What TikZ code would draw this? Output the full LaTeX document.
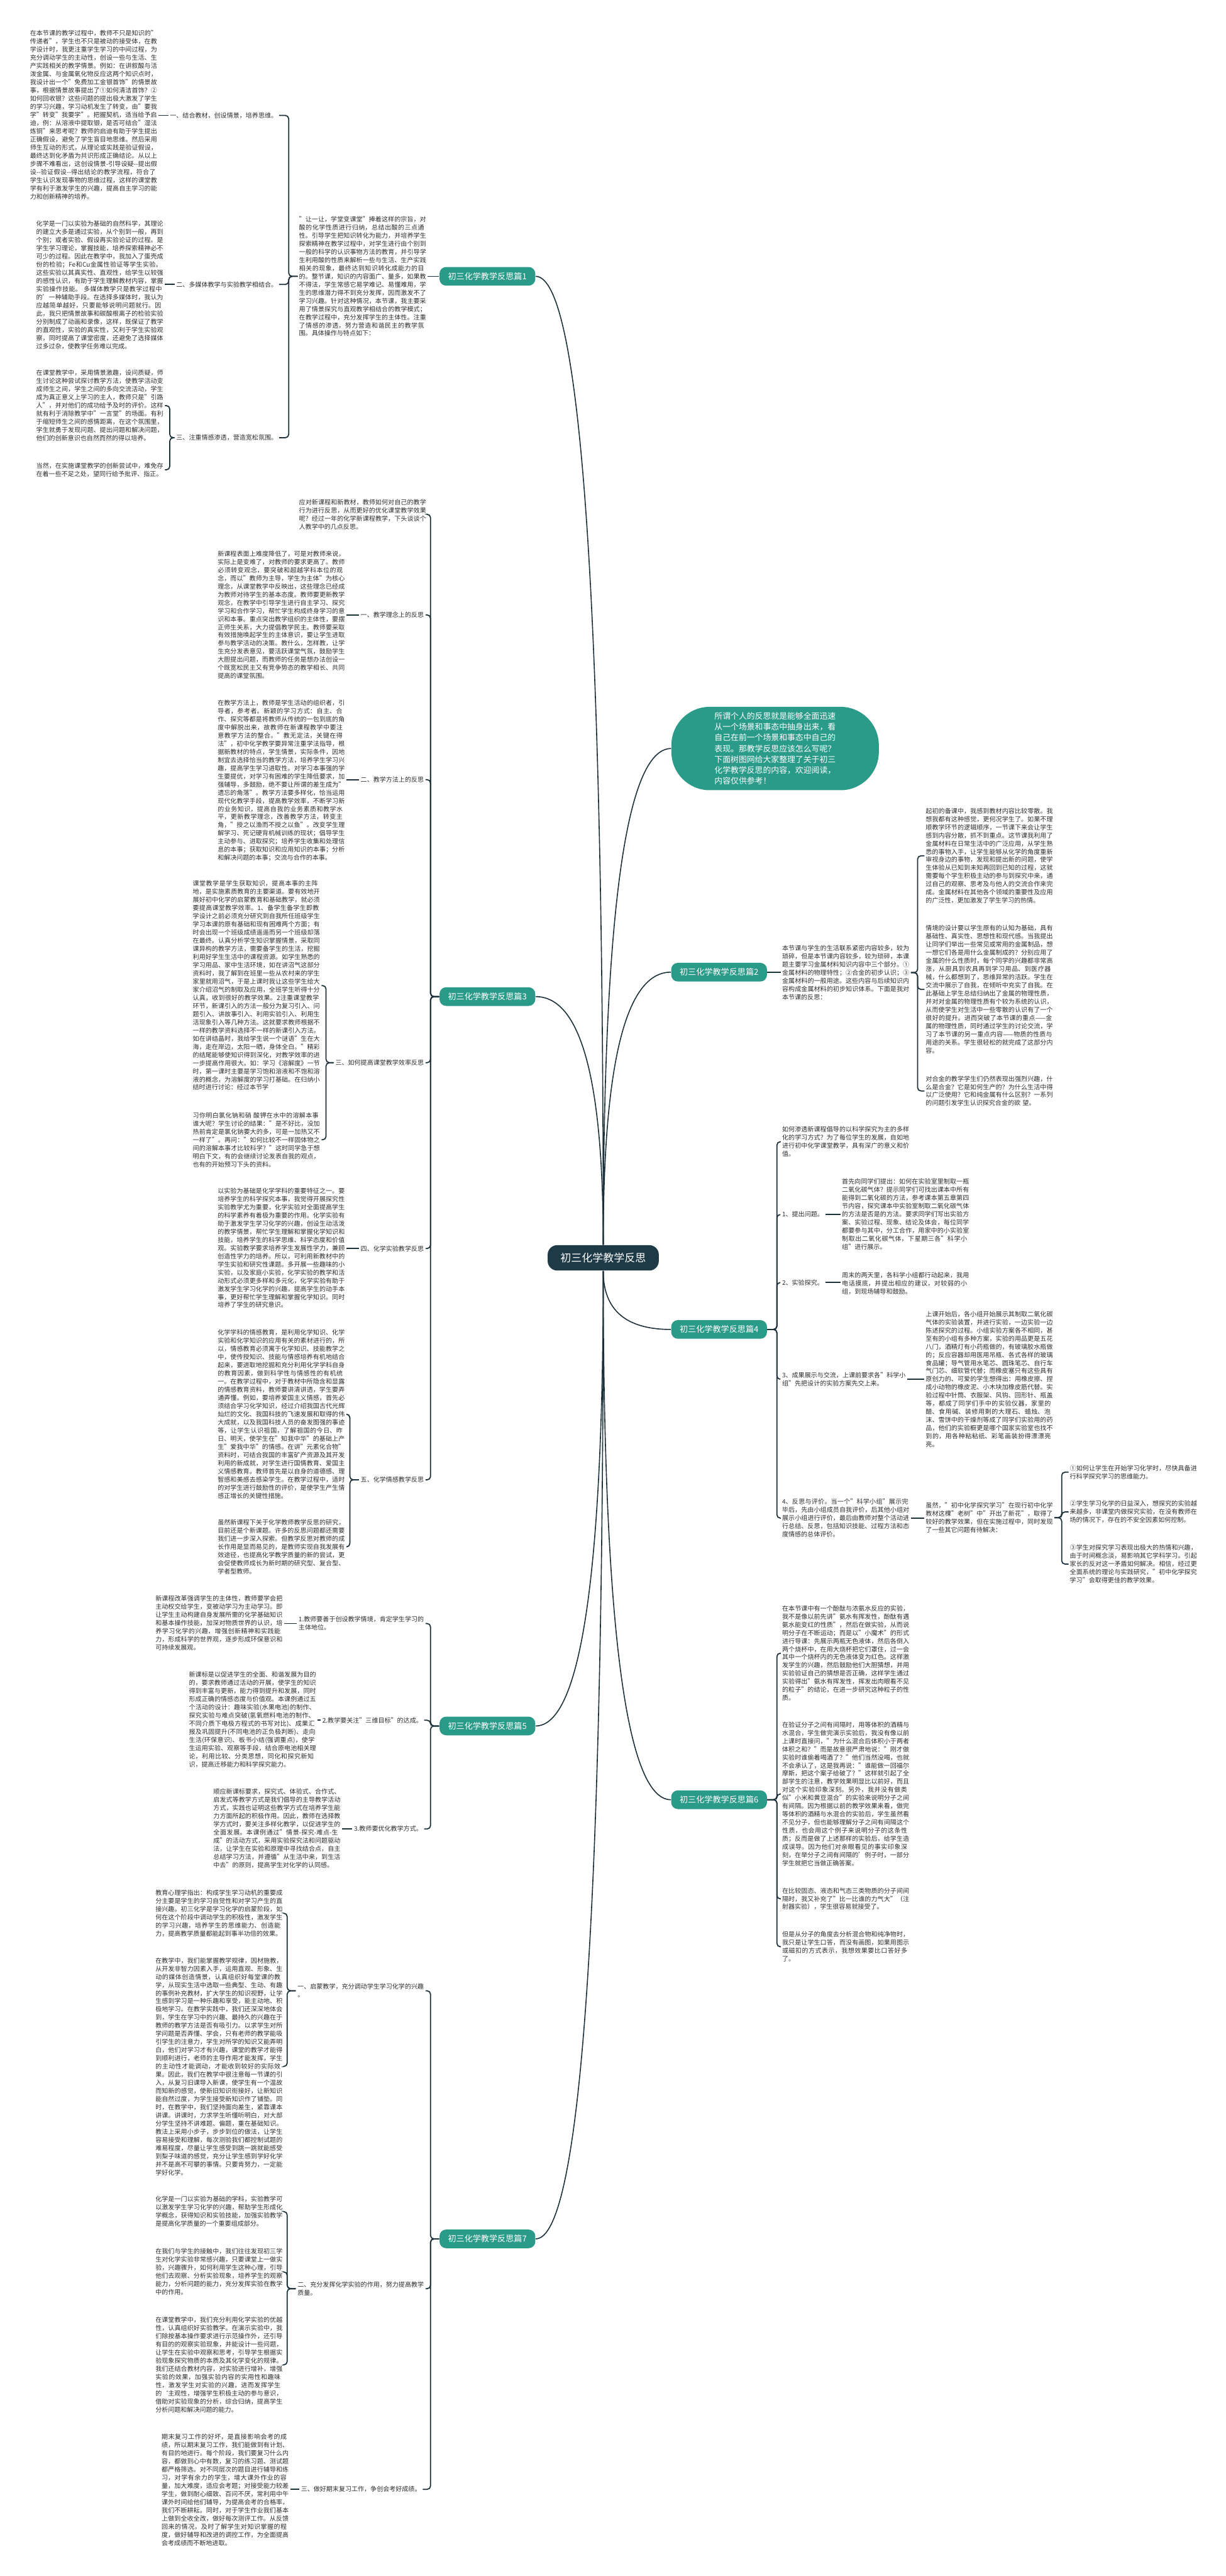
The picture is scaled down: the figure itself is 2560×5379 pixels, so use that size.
\documentclass[tikz,border=0pt]{standalone}
\usepackage{fontspec}
\setmainfont{Noto Sans CJK SC}
\usepackage{tikz}
\usetikzlibrary{calc}
\XeTeXlinebreaklocale "zh"
\XeTeXlinebreakskip = 0pt plus 1pt

\definecolor{rootclr}{RGB}{30,58,70}
\definecolor{branchclr}{RGB}{43,155,137}
\definecolor{lineclr}{RGB}{28,48,58}
\definecolor{textclr}{RGB}{45,45,45}

\newcommand{\leaffont}{\fontsize{3.75pt}{4.84pt}\selectfont}
\newcommand{\branchfont}{\fontsize{4.9pt}{5.9pt}\selectfont}
\newcommand{\rootfont}{\fontsize{6.35pt}{7.6pt}\selectfont}
\newcommand{\bubblefont}{\fontsize{4.8pt}{6.42pt}\selectfont}

\tikzstyle{root}   = [rectangle, rounded corners=0.2cm, minimum width=2.32cm,
    minimum height=0.53cm, inner sep=0pt, fill=rootclr, text=white, font=\rootfont]
\tikzstyle{branch} = [rectangle, rounded corners=0.14cm, minimum width=2.0cm,
    minimum height=0.39cm, inner sep=0pt, fill=branchclr, text=white, font=\branchfont]
\tikzstyle{bubble} = [rectangle, rounded corners=0.8cm, minimum width=4.33cm,
    minimum height=1.74cm, inner sep=0pt, fill=branchclr, text=white, font=\bubblefont, align=left]
\tikzstyle{leaf}   = [text width=2.66cm, align=left, inner xsep=0.02cm, inner ysep=0.02cm,
    font=\leaffont, text=textclr]
\tikzstyle{topic}  = [align=left, inner xsep=0.03cm, inner ysep=0.02cm, font=\leaffont, text=textclr]
\tikzstyle{link}   = [draw=lineclr, line width=0.65pt, rounded corners=0.07cm]
\tikzstyle{stem}   = [draw=lineclr, line width=0.6pt,
    to path={.. controls ($(\tikztostart)!0.667!(\tikztostart |- \tikztotarget)$)
    and ($(\tikztotarget)!0.667!(\tikztostart |- \tikztotarget)$) .. (\tikztotarget)}]

\begin{document}
\begin{tikzpicture}[x=0.01cm, y=-0.01cm]
    \path [use as bounding box, fill=white] (0,0) rectangle (2560,5379);

    % centre and main branches
    \node (ctr)  [root]   at (1260,2626.5) {初三化学教学反思};
    \node (n1)   [branch] at (1018,577)    {初三化学教学反思篇1};
    \node (n3)   [branch] at (1018,2081)   {初三化学教学反思篇3};
    \node (n5)   [branch] at (1018,3604)   {初三化学教学反思篇5};
    \node (n7)   [branch] at (1018,4675)   {初三化学教学反思篇7};
    \node (n2)   [branch] at (1502,2030)   {初三化学教学反思篇2};
    \node (n4)   [branch] at (1502,2776)   {初三化学教学反思篇4};
    \node (n6)   [branch] at (1502,3758)   {初三化学教学反思篇6};
    \node (bub)  [bubble] at (1619,1563)   {所谓个人的反思就是能够全面迅速\\从一个场景和事态中抽身出来，看\\自己在前一个场景和事态中自己的\\表现。那教学反思应该怎么写呢？\\下面树图网给大家整理了关于初三\\化学教学反思的内容，欢迎阅读，\\内容仅供参考！};

    \draw [stem] (ctr.north) to (n1.east);
    \draw [stem] (ctr.north) to (n3.east);
    \draw [stem] (ctr.north) to (bub.west);
    \draw [stem] (ctr.north) to (n2.west);
    \draw [stem] (ctr.south) to (n4.west);
    \draw [stem] (ctr.south) to (n5.east);
    \draw [stem] (ctr.south) to (n6.west);
    \draw [stem] (ctr.south) to (n7.east);

    % 篇1
    \node (P1)  [leaf, anchor=west] at (622,577) {"让一让，学堂变课堂"捧着这样的宗旨，对酸的化学性质进行归纳，总结出酸的三点通性。引导学生把知识转化为能力，并培养学生探索精神在教学过程中，对学生进行由个别到一般的科学的认识事物方法的教育，并引导学生利用酸的性质来解析一些与生活、生产实践相关的现象，最终达到知识转化成能力的目的。整节课，知识的内容面广、量多，如果教不得法，学生常感它易学难记、易懂难用，学生的思维潜力得不到充分发挥，因而激发不了学习兴趣。针对这种情况，本节课，我主要采用了情景探究与直观教学相结合的教学模式；在教学过程中，充分发挥学生的主体性。注重了情感的渗透，努力营造和谐民主的教学氛围。具体操作与特点如下：};
    \node (L1a) [topic, anchor=east] at (583,241) {一、结合教材，创设情景，培养思维。};
    \node (L1b) [topic, anchor=east] at (583,594) {二、多媒体教学与实验教学相结合。};
    \node (L1c) [topic, anchor=east] at (583,914) {三、注重情感渗透，营造宽松氛围。};
    \node (A1)  [leaf, anchor=west] at (60,240) {在本节课的教学过程中，教师不只是知识的"传递者"，学生也不只是被动的接受体，在教学设计时，我更注重学生学习的中间过程，为充分调动学生的主动性，创设一些与生活、生产实践相关的教学情景。例如：在讲叙酸与活泼金属、与金属氧化物反应这两个知识点时，我设计出一个"免费加工金银首饰"的情景故事，根据情景故事提出了①如何清洁首饰？②如何回收银？这些问题的提出极大激发了学生的学习兴趣，学习动机发生了转变，由"要我学"转变"我要学"。把握契机，适当给予启迪，例：从溶液中提取银，是否可结合"湿法炼铜"来思考呢？教师的启迪有助于学生提出正确假设，避免了学生盲目地思维。然后采用师生互动的形式，从理论或实践是验证假设，最终达到化矛盾为共识形成正确结论。从以上步骤不难看出，这创设情景-引导设疑-{}-提出假设-{}-验证假设-{}-得出结论的教学流程，符合了学生认识发现事物的思维过程，这样的课堂教学有利于激发学生的兴趣，提高自主学习的能力和创新精神的培养。};
    \node (A2)  [leaf, anchor=west] at (73,595) {化学是一门以实验为基础的自然科学，其理论的建立大多是通过实验，从个别到一般，再到个别；或者实验、假设再实验论证的过程。是学生学习理论，掌握技能，培养探索精神必不可少的过程。因此在教学中，我加入了蛋壳成份的检验；Fe和Cu金属性验证等学生实验。这些实验以其真实性、直观性，给学生以较强的感性认识，有助于学生理解教材内容，掌握实验操作技能。 多媒体教学只是教学过程中的'一种辅助手段。在选择多媒体时，我认为应越简单越好，只要能够说明问题就行。因此，我只把情景故事和碳酸根离子的检验实验分别制成了动画和录像，这样，既保证了教学的直观性，实验的真实性，又利于学生实验观察，同时提高了课堂密度，还避免了选择媒体过多过杂，使教学任务难以完成。};
    \node (A3a) [leaf, anchor=west] at (73,847) {在课堂教学中，采用情景激趣，设问质疑，师生讨论这种尝试探讨教学方法，使教学活动变成师生之间，学生之间的多向交流活动，学生成为真正意义上学习的主人，教师只是"引路人"，并对他们的成功给予及时的评价。这样就有利于消除教学中"一言堂"的场面。有利于缩短师生之间的感情距离，在这个氛围里，学生就勇于发现问题、提出问题和解决问题，他们的创新意识也自然而然的得以培养。};
    \node (A3b) [leaf, anchor=west] at (73,981) {当然，在实施课堂教学的创新尝试中，难免存在着一些不足之处，望同行给予批评、指正。};

    \draw [link] (n1.west) -- (n1.west -| P1.east);
    \draw [link] (P1.west) -- ++(-19,0) |- (L1a.east);
    \draw [link] (P1.west) -- ++(-19,0) |- (L1b.east);
    \draw [link] (P1.west) -- ++(-19,0) |- (L1c.east);
    \draw [link] (L1a.west) -- (L1a.west -| A1.east);
    \draw [link] (L1b.west) -- (L1b.west -| A2.east);
    \draw [link] (L1c.west) -- ++(-10,0) |- (A3a.east);
    \draw [link] (L1c.west) -- ++(-10,0) |- (A3b.east);

    % 篇3
    \node (P3)  [leaf, anchor=west] at (622,1074) {应对新课程和新教材，教师如何对自己的教学行为进行反思，从而更好的优化课堂教学效果呢？经过一年的化学新课程教学，下头谈谈个人教学中的几点反思。};
    \node (L3a) [topic, anchor=east] at (889,1284) {一、教学理念上的反思};
    \node (L3b) [topic, anchor=east] at (889,1628) {二、教学方法上的反思};
    \node (L3c) [topic, anchor=east] at (889,2219) {三、如何提高课堂教学效率反思};
    \node (L3d) [topic, anchor=east] at (889,2607) {四、化学实验教学反思};
    \node (L3e) [topic, anchor=east] at (889,3090) {五、化学情感教学反思};
    \node (B1)  [leaf, anchor=west] at (452,1284) {新课程表面上难度降低了，可是对教师来说，实际上是变难了，对教师的要求更高了。教师必须转变观念，要突破和超越学科本位的观念，而以"教师为主导，学生为主体"为核心理念，从课堂教学中反映出，这些理念已经成为教师对待学生的基本态度。教师要更新教学观念，在教学中引导学生进行自主学习、探究学习和合作学习，帮忙学生构成终身学习的意识和本事。重点突出教学组织的主体性，要摆正师生关系，大力提倡教学民主。教师要采取有效措施唤起学生的主体意识，要让学生进取参与教学活动的决策。教什么，怎样教，让学生充分发表意见，要活跃课堂气氛，鼓励学生大胆提出问题，而教师的任务是想办法创设一个既宽松民主又有竞争势态的教学相长、共同提高的课堂氛围。};
    \node (B2)  [leaf, anchor=west] at (452,1630) {在教学方法上，教师是学生活动的组织者，引导者，参考者。新颖的学习方式：自主、合作、探究等都是将教师从传统的一包到底的角度中解脱出来，故教师在新课程教学中要注意教学方法的整合。"教无定法，关键在得法"，初中化学教学要异常注重学法指导，根据新教材的特点，学生情景，实际条件，因地制宜去选择恰当的教学方法，培养学生学习兴趣，提高学生学习进取性。对学习本事强的学生要提优，对学习有困难的学生降低要求，加强辅导，多鼓励，绝不要让所谓的差生成为"遗忘的角落"。教学方法要多样化，恰当运用现代化教学手段，提高教学效率，不断学习新的业务知识，提高自我的业务素质和教学水平，更新教学理念，改善教学方法，转变主角，"授之以渔而不授之以鱼"。改变学生理解学习、死记硬背机械训练的现状；倡导学生主动参与、进取探究；培养学生收集和处理信息的本事；获取知识和应用知识的本事；分析和解决问题的本事；交流与合作的本事。};
    \node (B3a) [leaf, anchor=west] at (400,2058) {课堂教学是学生获取知识，提高本事的主阵地，是实施素质教育的主要渠道。要有效地开展好初中化学的启蒙教育和基础教学，就必须要提高课堂教学效率。1、备学生备学生即教学设计之前必须充分研究到自我所任班级学生学习本课的原有基础和现有困难两个方面；有时会出现一个班级成绩遥遥而另一个班级却落在最终。认真分析学生知识掌握情景，采取同课异构的教学方法，需要备学生的生活，挖掘利用好学生生活中的课程资源。如学生熟悉的学习用品、家中生活环境，如在讲沼气这部分资料时，我了解到在班里一些从农村来的学生家里就用沼气，于是上课时我让这些学生给大家介绍沼气的制取及应用，全班学生听得十分认真，收到很好的教学效果。2注重课堂教学环节，新课引入的方法一般分为复习引入、问题引入、讲故事引入、利用实验引入、利用生活现象引入等几种方法。这就要求教师根据不一样的教学资料选择不一样的新课引入方法。如在讲结晶时，我给学生说一个谜语"生在大海，走在岸边，太阳一晒，身体全白。"精彩的结尾能够使知识得到深化，对教学效率的进一步提高作用很大。如：学习《溶解度》一节时，第一课时主要是学习饱和溶液和不饱和溶液的概念，为溶解度的学习打基础。在归纳小结时进行讨论：经过本节学};
    \node (B3b) [leaf, anchor=west] at (400,2380) {习你明白氯化钠和硝 酸钾在水中的溶解本事谁大呢？学生讨论的结果："是不好比，没加热前肯定是氯化钠要大的多，可是一加热又不一样了"。再问："如何比较不一样固体物之间的溶解本事才比较科学？"这时同学急于想明白下文，有的会继续讨论发表自我的观点，也有的开始预习下头的资料。};
    \node (B4)  [leaf, anchor=west] at (452,2606) {以实验为基础是化学学科的重要特征之一。要培养学生的科学探究本事，我觉得开展探究性实验教学尤为重要，化学实验对全面提高学生的科学素养有着极为重要的作用。化学实验有助于激发学生学习化学的兴趣，创设生动活泼的教学情景，帮忙学生理解和掌握化学知识和技能，培养学生的科学思维、科学态度和价值观。实验教学要求培养学生发展性学力，兼顾创造性学力的培养。所以，可利用新教材中的学生实验和研究性课题。多开展一些趣味的小实验，以及家庭小实验，化学实验的教学和活动形式必须更多样和多元化，化学实验有助于激发学生学习化学的兴趣，提高学生的动手本事，更好帮忙学生理解和掌握化学知识。同时培养了学生的研究意识。};
    \node (B5a) [leaf, anchor=west] at (452,2953) {化学学科的情感教育，是利用化学知识、化学实验和化学知识的应用有关的素材进行的，所以，情感教育必须寓于化学知识、技能教学之中，使传授知识、技能与情感培养有机地结合起来，要进取地挖掘和充分利用化学学科自身的教育因素，做到科学性与情感性的有机统一。在教学过程中，对于教材中所隐含和显露的情感教育资料，教师要讲清讲透，学生要弄通弄懂。例如，要培养爱国主义情感，首先必须结合学习化学知识，经过介绍我国古代光辉灿烂的文化、我国科技的飞速发展和取得的伟大成就，以及我国科技人员的奋发图强的事迹等，让学生认识祖国，了解祖国的今日、昨日、明天，使学生在"知我中华"的基础上产生"爱我中华"的情感。在讲"元素化合物"资料时，可结合我国的丰富矿产资源及其开发利用的新成就，对学生进行国情教育、爱国主义情感教育。教师首先是以自身的道德感、理智感和美感去感染学生。在教学过程中，适时的对学生进行鼓励性的评价，是使学生产生情感正增长的关键性措施。};
    \node (B5b) [leaf, anchor=west] at (452,3230) {虽然新课程下关于化学教师教学反思的研究，目前还是个新课题。许多的反思问题都还需要我们进一步深入探索。但教学反思对教师的成长作用是显而易见的，是教师实现自我发展有效途径，也提高化学教学质量的新的尝试，更会促使教师成长为新时期的研究型、复合型、学者型教师。};

    \draw [link] (n3.west) -- ++(-18,0) |- (P3.east);
    \draw [link] (n3.west) -- ++(-18,0) |- (L3a.east);
    \draw [link] (n3.west) -- ++(-18,0) |- (L3b.east);
    \draw [link] (n3.west) -- ++(-18,0) |- (L3c.east);
    \draw [link] (n3.west) -- ++(-18,0) |- (L3d.east);
    \draw [link] (n3.west) -- ++(-18,0) |- (L3e.east);
    \draw [link] (L3a.west) -- (L3a.west -| B1.east);
    \draw [link] (L3b.west) -- (L3b.west -| B2.east);
    \draw [link] (L3c.west) -- ++(-16,0) |- (B3a.east);
    \draw [link] (L3c.west) -- ++(-16,0) |- (B3b.east);
    \draw [link] (L3d.west) -- (L3d.west -| B4.east);
    \draw [link] (L3e.west) -- ++(-19,0) |- (B5a.east);
    \draw [link] (L3e.west) -- ++(-19,0) |- (B5b.east);

    % 篇5
    \node (L5a) [topic, anchor=east] at (889,3390) {1.教师要善于创设教学情境，肯定学生学习的\\主体地位。};
    \node (L5b) [topic, anchor=east] at (886,3592) {2.教学要关注"三维目标"的达成。};
    \node (L5c) [topic, anchor=east] at (886,3819) {3.教师要优化教学方式。};
    \node (C1)  [leaf, anchor=west] at (322,3389) {新课程改革强调学生的主体性，教师要学会把主动权交给学生，变被动学习为主动学习。即让学生主动构建自身发展所需的化学基础知识和基本操作技能，加深对物质世界的认识，培养学习化学的兴趣，增强创新精神和实践能力，形成科学的世界观，逐步形成环保意识和可持续发展观。};
    \node (C2)  [leaf, anchor=west] at (392,3591) {新课标是以促进学生的全面、和谐发展为目的的，要求教师通过活动的开展，使学生的知识得到丰富与更新，能力得到提升和发展，同时形成正确的情感态度与价值观。本课例通过五个活动的设计：趣味实验(水果电池)的制作、探究实验与难点突破(氢氧燃料电池的制作、不同介质下电极方程式的书写对比)、成果汇报及巩固提升(不同电池的正负极判断)、走向生活(环保意识)、板书小结(强调重点)，使学生运用实验、观察等手段，结合原电池相关理论，利用比较、分类思想，同化和探究新知识，提高迁移能力和科学探究能力。};
    \node (C3)  [leaf, anchor=west] at (443,3818) {顺应新课标要求，探究式、体验式、合作式、启发式等教学方式是我们倡导的主导教学活动方式，实践也证明这些教学方式在培养学生能力方面所起的积极作用。因此，教师在选择教学方式时，要关注多样化教学，以促进学生的全面发展。本课例通过"情景-探究-难点-生成"的活动方式，采用实验探究法和问题驱动法，让学生在实验和原理中寻找结合点，自主总结学习方法，并遵循"从生活中来，到生活中去"的原则，提高学生对化学的认同感。};

    \draw [link] (n5.west) -- ++(-18,0) |- (L5a.east);
    \draw [link] (n5.west) -- ++(-18,0) |- (L5b.east);
    \draw [link] (n5.west) -- ++(-18,0) |- (L5c.east);
    \draw [link] (L5a.west) -- (L5a.west -| C1.east);
    \draw [link] (L5b.west) -- (L5b.west -| C2.east);
    \draw [link] (L5c.west) -- (L5c.west -| C3.east);

    % 篇7
    \node (L7a) [topic, anchor=east] at (889,4157) {一、启蒙教学，充分调动学生学习化学的兴趣\\。};
    \node (L7b) [topic, anchor=east] at (889,4779) {二、充分发挥化学实验的作用，努力提高教学\\质量。};
    \node (L7c) [topic, anchor=east] at (883,5198) {三、做好期末复习工作，争创会考好成绩。};
    \node (D1a) [leaf, anchor=west] at (322,3995) {教育心理学指出：构成学生学习动机的重要成分主要是学生的学习自觉性和对学习产生的直接兴趣。初三化学是学习化学的启蒙阶段，如何在这个阶段中调动学生的积极性，激发学生的学习兴趣，培养学生的思维能力、创造能力，提高教学质量都能起到事半功倍的效果。};
    \node (D1b) [leaf, anchor=west] at (322,4315) {在教学中，我们能掌握教学规律，因材施教，从开发非智力因素入手，运用直观、形象、生动的媒体创造情景，认真组织好每堂课的教学，从现实生活中选取一些典型、生动、有趣的事例补充教材，扩大学生的知识视野，让学生感到学习是一种乐趣和享受，能主动地、积极地学习。在教学实践中，我们还深深地体会到，学生在学习中的兴趣、最持久的兴趣在于教师的教学方法是否有吸引力。以求学生对所学问题是否弄懂、学会，只有老师的教学能吸引学生的注意力，学生对所学的知识又能弄明白，他们对学习才有兴趣，课堂的教学才能得到顺利进行，老师的主导作用才能发挥，学生的主动性才能调动，才能收到较好的实际效果。因此，我们在教学中很注意每一节课的引入，从复习旧课导入新课，使学生有一个温故而知新的感觉，使新旧知识衔接好，让新知识能自然过度，为学生接受新知识作了铺垫。同时，在教学中，我们坚持面向差生，紧靠课本讲课。讲课时，力求学生听懂听明白，对大部分学生坚持不讲难题、偏题，重在基础知识。教法上采用小步子，步步到位的做法，让学生容易接受和理解，每次测验我们都控制试题的难易程度，尽量让学生感受到跳一跳就能感受到梨子味道的感觉，充分让学生感到学好化学并不是高不可攀的事情。只要肯努力，一定能学好化学。};
    \node (D2a) [leaf, anchor=west] at (322,4618) {化学是一门以实验为基础的学科，实验教学可以激发学生学习化学的兴趣，帮助学生形成化学概念，获得知识和实验技能，加强实验教学是提高化学质量的一个重要组成部分。};
    \node (D2b) [leaf, anchor=west] at (322,4744) {在我们与学生的接触中，我们往往发现初三学生对化学实验非常感兴趣，只要课堂上一做实验，兴趣骤升，如何利用学生这种心理，引导他们去观察、分析实验现象，培养学生的观察能力，分析问题的能力，充分发挥实验在教学中的作用。};
    \node (D2c) [leaf, anchor=west] at (322,4938) {在课堂教学中，我们充分利用化学实验的优越性，认真组织好实验教学。在演示实验中，我们除按基本操作要求进行示范操作外，还引导有目的的观察实验现象，并能设计一些问题，让学生在实验中观察和思考，引导学生根据实验现象探究物质的本质及其化学变化的规律。我们还结合教材内容，对实验进行增补，增强实验的效果，加强实验内容的实用性和趣味性，激发学生对实验的兴趣，进而发挥学生的`主观性，增强学生积极主动的参与意识，借助对实验现象的分析，综合归纳，提高学生分析问题和解决问题的能力。};
    \node (D3)  [leaf, anchor=west] at (335,5199) {期末复习工作的好坏，是直接影响会考的成绩，所以期末复习工作，我们能做到有计划、有目的地进行。每个阶段，我们要复习什么内容，都做到心中有数，复习的练习题、测试题都严格筛选。对不同层次的题目进行辅导和练习，对学有余力的学生，增大课外作业的容量，加大难度，适应会考题；对接受能力较差学生，做到耐心细致、百问不厌，常利用中午课外时间给他们辅导，为提高会考的合格率，我们不断耕耘。同时，对于学生作业我们基本上做到全收全改，做好每次测评工作。从反馈回来的情况，及时了解学生对知识掌握的程度，做好辅导和改进的调控工作，为全面提高会考成绩而不断地进取。};

    \draw [link] (n7.west) -- ++(-18,0) |- (L7a.east);
    \draw [link] (n7.west) -- ++(-18,0) |- (L7b.east);
    \draw [link] (n7.west) -- ++(-18,0) |- (L7c.east);
    \draw [link] (L7a.west) -- ++(-18,0) |- (D1a.east);
    \draw [link] (L7a.west) -- ++(-18,0) |- (D1b.east);
    \draw [link] (L7b.west) -- ++(-18,0) |- (D2a.east);
    \draw [link] (L7b.west) -- ++(-18,0) |- (D2b.east);
    \draw [link] (L7b.west) -- ++(-18,0) |- (D2c.east);
    \draw [link] (L7c.west) -- (L7c.west -| D3.east);

    % 篇2
    \node (E0) [leaf, anchor=west] at (1631,2031) {本节课与学生的生活联系紧密内容较多，较为琐碎，但是本节课内容较多，较为琐碎，本课题主要学习金属材料知识内容中三个部分。①金属材料的物理特性；②合金的初步认识；③金属材料的一般用途。这些内容与后续知识内容构成金属材料的初步知识体系。下面是我对本节课的反思：};
    \node (E1) [leaf, anchor=west] at (1931,1787) {起初的备课中，我感到教材内容比较零散。我想我都有这种感觉，更何况学生了。如果不理顺教学环节的逻辑顺序，一节课下来会让学生感到内容分散，抓不到重点。这节课我利用了金属材料在日常生活中的广泛应用，从学生熟悉的事物入手，让学生能够从化学的角度重新审视身边的事物，发现和提出新的问题，使学生体验从已知到未知再回到已知的过程，这就需要每个学生积极主动的参与到探究中来，通过自己的观察、思考及与他人的交流合作来完成。金属材料在其他各个领域的重要性及应用的广泛性，更加激发了学生学习的热情。};
    \node (E2) [leaf, anchor=west] at (1931,2066) {情境的设计要以学生原有的认知为基础，具有基础性、真实性、思想性和现代感。当我提出让同学们举出一些常见或常用的金属制品，想一想它们各是用什么金属制成的？分别应用了金属的什么性质时，每个同学的兴趣都非常高涨，从厨具到农具再到学习用品、到医疗器械，什么都想到了，思维异常的活跃。学生在交流中展示了自我，在倾听中充实了自我。在此基础上学生总结归纳出了金属的物理性质，并对对金属的物理性质有个较为系统的认识，从而使学生对生活中一些零散的认识有了一个很好的提升。进而突破了本节课的重点——金属的物理性质，同时通过学生的讨论交流，学习了本节课的另一重点内容——物质的性质与用途的关系。学生很轻松的就完成了这部分内容。};
    \node (E3) [leaf, anchor=west] at (1931,2278) {对合金的教学学生们仍然表现出强烈兴趣，什么是合金？它是如何生产的？为什么生活中得以广泛使用？它和纯金属有什么区别？一系列的问题引发学生认识探究合金的欲 望。};

    \draw [link] (n2.east) -- (n2.east -| E0.west);
    \draw [link] (E0.east) -- ++(14,0) |- (E1.west);
    \draw [link] (E0.east) -- ++(14,0) |- (E2.west);
    \draw [link] (E0.east) -- ++(14,0) |- (E3.west);

    % 篇4
    \node (F0)  [leaf, anchor=west]  at (1631,2384) {如何渗透新课程倡导的以科学探究为主的多样化的学习方式？为了每位学生的发展，自如地进行初中化学课堂教学，具有深广的意义和价值。};
    \node (F1)  [topic, anchor=west] at (1630,2536) {1、提出问题。};
    \node (F2)  [topic, anchor=west] at (1630,2678) {2、实验探究。};
    \node (F3)  [topic, anchor=west] at (1630,2880) {3、成果展示与交流，上课前要求各"科学小\\组"先把设计的实验方案先交上来。};
    \node (F4)  [leaf, anchor=west]  at (1631,3170) {4、反思与评价。当一个"科学小组"展示完毕后，先由小组成员自我评价，后其他小组对展示小组进行评价，最后由教师对整个活动进行总结、反思，包括知识技能、过程方法和态度情感的总体评价。};
    \node (F1t) [leaf, anchor=west]  at (1756,2535) {首先向同学们提出：如何在实验室里制取一瓶二氧化碳气体？提示同学们可找出课本中所有能得到二氧化碳的方法，参考课本第五章第四节内容，探究课本中实验室制取二氧化碳气体的方法是否是的方法。要求同学们写出实验方案、实验过程、现象、结论及体会，每位同学都要参与其中，分工合作，用家中的小实验室制取出二氧化碳气体，下星期三各"科学小组"进行展示。};
    \node (F2t) [leaf, anchor=west]  at (1756,2680) {周末的两天里，各科学小组都行动起来，我用电话摸底，并提出相应的建议，对较弱的小组，到现场辅导和鼓励。};
    \node (F3t) [leaf, anchor=west]  at (1931,2880) {上课开始后，各小组开始展示其制取二氧化碳气体的实验装置，并进行实验，一边实验一边陈述探究的过程。小组实验方案各不相同，甚至有的小组有多种方案，实验的用品更是五花八门，酒精灯有小药瓶做的，有玻璃胶水瓶做的；反应容器却用医用吊瓶、各式各样的玻璃食品罐；导气管用水笔芯、圆珠笔芯、自行车气门芯、细软管代替；而橡皮塞只有这些具有原创力的、可爱的学生想得出：用橡皮擦、捏成小动物的橡皮泥、小木块加橡皮筋代替。实验过程中针筒、衣服架、风钩、回形针、瓶盖等，都成了同学们手中的实验仪器，家里的醋、食用碱、装修用剩的大理石、蜡烛、泡沫、雪饼中的干燥剂等成了同学们实验用的药品，他们的实验橱更是哪个国家实验室也找不到的，用各种粘粘纸、彩笔画装扮得漂漂亮亮。};
    \node (F4t) [leaf, anchor=west]  at (1931,3169) {虽然，"初中化学探究学习"在现行初中化学教材这棵"老树"中"开出了新花"，取得了较好的教学效果，但在实施过程中，同时发现了一些其它问题有待解决：};
    \node (G1)  [leaf, anchor=west]  at (2232,3074) {①如何让学生在开始学习化学时，尽快具备进行科学探究学习的思维能力。};
    \node (G2)  [leaf, anchor=west]  at (2232,3157) {②学生学习化学的日益深入，想探究的实验越来越多，非课堂内做探究实验，在没有教师在场的情况下，存在的不安全因素如何控制。};
    \node (G3)  [leaf, anchor=west]  at (2232,3266) {③学生对探究学习表现出极大的热情和兴趣，由于时间概念淡，易影响其它学科学习。引起家长的反对这一矛盾如何解决。相信，经过更全面系统的理论与实践研究，"初中化学探究学习"会取得更佳的教学效果。};

    \draw [link] (n4.east) -- ++(20,0) |- (F0.west);
    \draw [link] (n4.east) -- ++(20,0) |- (F1.west);
    \draw [link] (n4.east) -- ++(20,0) |- (F2.west);
    \draw [link] (n4.east) -- ++(20,0) |- (F3.west);
    \draw [link] (n4.east) -- ++(20,0) |- (F4.west);
    \draw [link] (F1.east) -- (F1.east -| F1t.west);
    \draw [link] (F2.east) -- (F2.east -| F2t.west);
    \draw [link] (F3.east) -- (F3.east -| F3t.west);
    \draw [link] (F4.east) -- (F4.east -| F4t.west);
    \draw [link] (F4t.east) -- ++(15,0) |- (G1.west);
    \draw [link] (F4t.east) -- ++(15,0) |- (G2.west);
    \draw [link] (F4t.east) -- ++(15,0) |- (G3.west);

    % 篇6
    \node (H1) [leaf, anchor=west] at (1631,3452) {在本节课中有一个酚酞与浓氨水反应的实验，我不是像以前先讲"氨水有挥发性，酚酞有遇氨水能变红的性质"，然后在做实验，从而说明分子在不断运动；而是以"小魔术"的形式进行导课：先展示两瓶无色液体，然后各倒入两个烧杯中，在用大烧杯把它们罩住，过一会其中一个烧杯内的无色液体变为红色。这样激发学生的兴趣，然后鼓励他们大胆猜想，并用实验验证自己的猜想是否正确，这样学生通过实验得出"氨水有挥发性，挥发出肉眼看不见的粒子"的结论，在进一步研究这种粒子的性质。};
    \node (H2) [leaf, anchor=west] at (1631,3746) {在验证分子之间有间隔时，用等体积的酒精与水混合，学生做完演示实验后，我没有像以前上课时直接问，"为什么混合后体积小于两者体积之和？"而是故意很严肃地说："刚才做实验时谁偷着喝酒了？"他们当然没喝，也就不会承认了，这是我再说："谁能做一回福尔摩斯，把这个案子给破了？"这样就引起了全部学生的注意，教学效果明显比以前好，而且对这个实验印象深刻。另外，我并没有做类似"小米和黄豆混合"的实验来说明分子之间有间隔。因为根据以前的教学效果来看，做完等体积的酒精与水混合的实验后，学生虽然看不见分子，但也能够理解分子之间有间隔这个性质，也会用这个例子来说明分子的这条性质；反而是做了上述那样的实验后，给学生造成误导。因为他们对亲眼看见的事实印象深刻，在举分子之间有间隔的'例子时，一部分学生就把它当做正确答案。};
    \node (H3) [leaf, anchor=west] at (1631,3965) {在比较固态、液态和气态三类物质的分子间间隔时，我又补充了"比一比谁的力气大"（注射器实验），学生很容易就接受了。};
    \node (H4) [leaf, anchor=west] at (1631,4065) {但是从分子的角度去分析混合物和纯净物时，我只是让学生口答，而没有画图，如果用图示或磁扣的方式表示，我想效果要比口答好多了。};

    \draw [link] (n6.east) -- ++(20,0) |- (H1.west);
    \draw [link] (n6.east) -- ++(20,0) |- (H2.west);
    \draw [link] (n6.east) -- ++(20,0) |- (H3.west);
    \draw [link] (n6.east) -- ++(20,0) |- (H4.west);
\end{tikzpicture}
\end{document}
